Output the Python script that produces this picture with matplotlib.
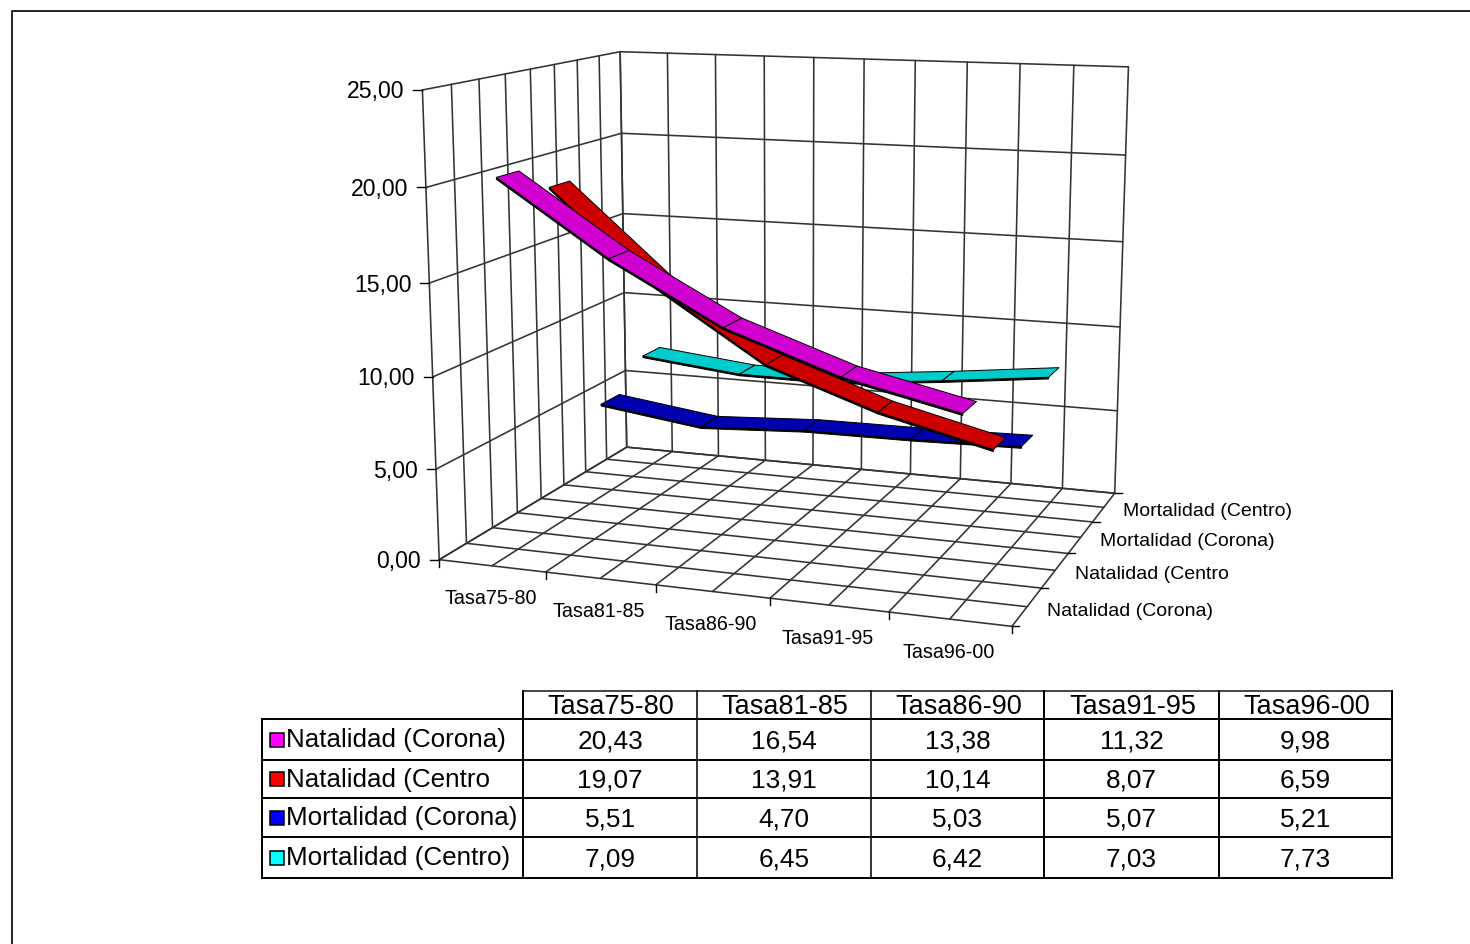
import numpy as np
import matplotlib
matplotlib.use("Agg")
import matplotlib.pyplot as plt
from matplotlib.patches import Polygon, Rectangle

plt.rcParams['font.family'] = ['Liberation Sans', 'DejaVu Sans']

# data
categories = ["Tasa75-80", "Tasa81-85", "Tasa86-90", "Tasa91-95", "Tasa96-00"]
series_names = ["Natalidad (Corona)", "Natalidad (Centro", "Mortalidad (Corona)", "Mortalidad (Centro)"]
natalidad_corona = [20.43, 16.54, 13.38, 11.32, 9.98]
natalidad_centro = [19.07, 13.91, 10.14, 8.07, 6.59]
mortalidad_corona = [5.51, 4.70, 5.03, 5.07, 5.21]
mortalidad_centro = [7.09, 6.45, 6.42, 7.03, 7.73]
z_ticks = [0, 5, 10, 15, 20, 25]

all_series = [natalidad_corona, natalidad_centro, mortalidad_corona, mortalidad_centro]
ribbon_colors = ["#D000D0", "#CC0000", "#0000B0", "#00CCCC"]
key_colors = ["#FF00FF", "#FF0000", "#0000FF", "#00FFFF"]


def fit_camera():
    # box corners (category, depth, value) -> pixel position in the picture
    box = [(0, 0, 0), (5, 0, 0), (5, 4, 0), (0, 4, 0), (0, 0, 25), (0, 4, 25), (5, 4, 25)]
    pix = [(439.5, 560), (1011.5, 626.5), (1115, 493), (626.5, 447),
           (422.5, 89.5), (620, 52), (1128.5, 67)]
    rows = []
    for (x, y, z), (u, v) in zip(box, pix):
        rows.append([x, y, z, 1, 0, 0, 0, 0, -u * x, -u * y, -u * z, -u])
        rows.append([0, 0, 0, 0, x, y, z, 1, -v * x, -v * y, -v * z, -v])
    return np.linalg.svd(np.array(rows))[2][-1].reshape(3, 4)


camera = fit_camera()


def project(x, y, z):
    p = camera @ np.array([x, y, z, 1.0])
    return p[0] / p[2], p[1] / p[2]


def line3d(ax, a, b, lw=1.15, color="#333333"):
    pa, pb = project(*a), project(*b)
    ax.plot([pa[0], pb[0]], [pa[1], pb[1]], color=color, lw=lw, solid_capstyle="round", zorder=1)


def quad(ax, pts, color, edge="black", lw=0.7, z=3):
    ax.add_patch(Polygon([project(*p) for p in pts], closed=True, facecolor=color,
                         edgecolor=edge, lw=lw, joinstyle="round", zorder=z))


def draw_box(ax):
    for i in range(11):
        x = i / 2
        line3d(ax, (x, 4, 0), (x, 4, 25))
        line3d(ax, (x, 0, 0), (x, 4, 0))
    for i in range(9):
        y = i / 2
        line3d(ax, (0, y, 0), (0, y, 25))
        line3d(ax, (0, y, 0), (5, y, 0))
    for z in z_ticks:
        line3d(ax, (0, 0, z), (0, 4, z))
        line3d(ax, (0, 4, z), (5, 4, z))


def draw_ticks(ax):
    for z in z_ticks:
        u, v = project(0, 0, z)
        ax.plot([u - 9, u], [v, v], color="black", lw=1.0, zorder=2)
        ax.text(u - 18, v + 2, f"{z:.2f}".replace(".", ","), ha="right", va="center", fontsize=16.6)
    for i in range(6):
        u, v = project(i, 0, 0)
        ax.plot([u, u], [v, v + 7], color="black", lw=1.0, zorder=2)
    for j in range(5):
        u, v = project(5, j, 0)
        ax.plot([u, u + 7], [v, v], color="black", lw=1.0, zorder=2)
    for i, cat in enumerate(categories):
        u, v = project(i + 0.5, 0, 0)
        ax.text(u - 1.5, v + 33, cat, ha="center", va="center", fontsize=14.2)
    for j, name in enumerate(series_names):
        u, v = project(5, j + 0.5, 0)
        ax.text(u + 19.5, v + 4.5, name, ha="left", va="center", fontsize=14.0)


def draw_ribbons(ax):
    half = 0.21
    thick = 0.1
    # back series first so the front ones cover them
    for j in range(len(all_series) - 1, -1, -1):
        vals = all_series[j]
        y0, y1 = j + 0.5 - half, j + 0.5 + half
        for i in range(len(vals) - 1):
            x0, x1 = i + 0.5, i + 1.5
            quad(ax, [(x0, y0, vals[i]), (x1, y0, vals[i + 1]),
                      (x1, y0, vals[i + 1] - thick), (x0, y0, vals[i] - thick)], "black")
            quad(ax, [(x0, y0, vals[i]), (x1, y0, vals[i + 1]),
                      (x1, y1, vals[i + 1]), (x0, y1, vals[i])], ribbon_colors[j])


def draw_table(ax):
    col_x = [523.5, 697, 871, 1044, 1219, 1392]
    row_y = [719, 760, 798, 837, 878]
    left, top = 262, 691
    lw = 1.4
    ax.plot([col_x[0], col_x[0], col_x[-1], col_x[-1]], [row_y[0], top, top, row_y[0]],
            color="#111111", lw=1.1, zorder=2)
    for y in row_y:
        ax.plot([left, col_x[-1]], [y, y], color="black", lw=lw, zorder=2)
    ax.plot([left, left], [row_y[0], row_y[-1]], color="black", lw=lw, zorder=2)
    for k, x in enumerate(col_x):
        ax.plot([x, x], [top, row_y[-1]], color="black", lw=lw if k in (0, 3, 4, 5) else 1.1, zorder=2)
    for i, cat in enumerate(categories):
        ax.text((col_x[i] + col_x[i + 1]) / 2 + 1, 707, cat, ha="center", va="center", fontsize=19.5)
    for j, name in enumerate(series_names):
        yc = (row_y[j] + row_y[j + 1]) / 2
        ax.add_patch(Rectangle((270.5, yc - 7), 13.5, 14, facecolor=key_colors[j],
                               edgecolor="black", lw=1.1, zorder=3))
        ax.text(286, yc + 1, name, ha="left", va="center", fontsize=18.7)
        for i, val in enumerate(all_series[j]):
            ax.text((col_x[i] + col_x[i + 1]) / 2, yc + 1.5, f"{val:.2f}".replace(".", ","),
                    ha="center", va="center", fontsize=18.9)


def main():
    fig = plt.figure(figsize=(14.70, 9.44), dpi=100)
    ax = fig.add_axes([0, 0, 1, 1])
    ax.set_xlim(0, 1470)
    ax.set_ylim(944, 0)
    ax.axis("off")

    # outer chart border, runs off the right and bottom of the picture
    ax.plot([12, 12, 1470], [944, 11, 11], color="black", lw=1.2, zorder=1)

    draw_box(ax)
    draw_ticks(ax)
    draw_ribbons(ax)
    draw_table(ax)

    fig.savefig("out.png", dpi=100)


if __name__ == "__main__":
    main()
